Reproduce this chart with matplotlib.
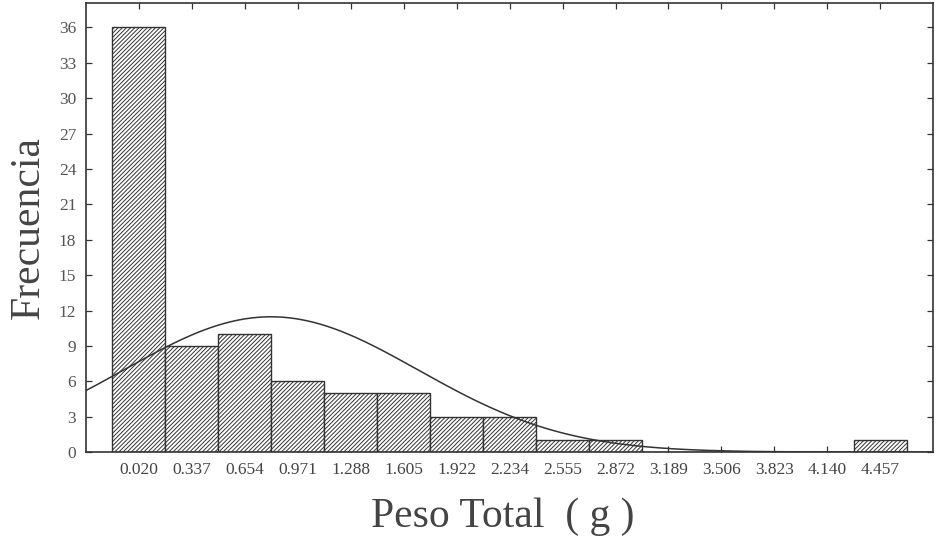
import matplotlib.pyplot as plt
import numpy as np

# bin centres (labels as printed) and counts
bin_labels = ['0.020', '0.337', '0.654', '0.971', '1.288', '1.605', '1.922',
              '2.234', '2.555', '2.872', '3.189', '3.506', '3.823', '4.140', '4.457']
counts = [36, 9, 10, 6, 5, 5, 3, 3, 1, 1, 0, 0, 0, 0, 1]
bin_width = 0.317
first_centre = 0.020

# fitted normal curve parameters
fit_mean = 0.81
fit_sd = 0.882
n_obs = 80

y_ticks = [0, 3, 6, 9, 12, 15, 18, 21, 24, 27, 30, 33, 36]

plt.rcParams['font.family'] = ['Liberation Serif', 'DejaVu Serif']
plt.rcParams['hatch.linewidth'] = 0.7
plt.rcParams['hatch.color'] = '#555555'

centres = first_centre + bin_width * np.arange(len(counts))

fig = plt.figure(figsize=(9.38, 5.44), dpi=100)
ax = fig.add_axes([0.0917, 0.169, 0.903, 0.826])

ax.bar(centres, counts, width=bin_width, color='white', edgecolor='#333333',
       linewidth=1.0, hatch='////////', zorder=2)

xs = np.linspace(-0.3, 4.8, 400)
ys = n_obs * bin_width / (fit_sd * np.sqrt(2 * np.pi)) * np.exp(-(xs - fit_mean) ** 2 / (2 * fit_sd ** 2))
ax.plot(xs, ys, color='#333333', linewidth=1.1, zorder=3)

ax.set_xlim(-0.297, 4.774)
ax.set_ylim(0, 38.1)
ax.set_xticks(centres)
ax.set_xticklabels(bin_labels, fontsize=12.5, color='#444444')
ax.set_yticks(y_ticks)
ax.set_yticklabels([str(v) for v in y_ticks], fontsize=12.5, color='#555555')
ax.tick_params(direction='in', length=4, width=0.9, color='#333333',
               top=True, right=True, pad=7)

for s in ax.spines.values():
    s.set_linewidth(1.2)
    s.set_color('#333333')

ax.set_ylabel('Frecuencia', fontsize=30, color='#444444', labelpad=8)
ax.set_xlabel('Peso Total  ( g )', fontsize=30, color='#444444')
ax.xaxis.set_label_coords(0.492, -0.1)
ax.xaxis.label.set_va('top')

fig.savefig('out.png', dpi=100)
